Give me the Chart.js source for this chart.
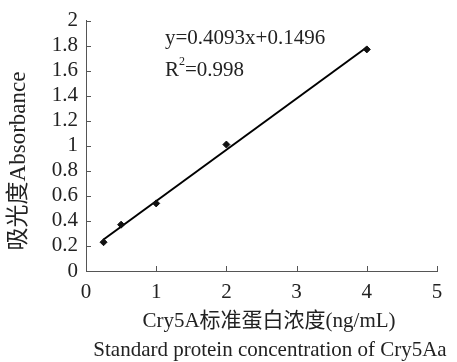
<!DOCTYPE html>
<html>
<head>
<meta charset="utf-8">
<script src="https://cdn.jsdelivr.net/npm/chart.js@4"></script>
<style>
  html, body { margin: 0; padding: 0; background: #fff; }
  #wrap { width: 457px; height: 362px; }
</style>
</head>
<body>
<div id="wrap"><canvas id="c" width="457" height="362"></canvas></div>
<script>
// datos
const concentrations = [0.25, 0.5, 1, 2, 4];
const absorbance = [0.23, 0.37, 0.54, 1.01, 1.77];
const slope = 0.4093;
const intercept = 0.1496;
const xTicks = [0, 1, 2, 3, 4, 5];
const yTicks = [0, 0.2, 0.4, 0.6, 0.8, 1, 1.2, 1.4, 1.6, 1.8, 2];

const serif = '"Liberation Serif", "Times New Roman", "Noto Sans CJK SC", serif';
const axisColor = '#555';

// línea de tendencia (ecuación de la figura)
const fitStart = concentrations[0];
const fitEnd = concentrations[concentrations.length - 1];
const fitLine = [
  { x: fitStart, y: slope * fitStart + intercept },
  { x: fitEnd, y: slope * fitEnd + intercept }
];

// ticks hacia dentro y textos
const extras = {
  id: 'extras',
  afterDraw(chart) {
    const c = chart.ctx;
    const xs = chart.scales.x, ys = chart.scales.y;
    c.save();
    c.strokeStyle = axisColor;
    c.lineWidth = 1;
    c.beginPath();
    xTicks.forEach(v => {
      const px = Math.round(xs.getPixelForValue(v)) + 0.5;
      c.moveTo(px, ys.bottom);
      c.lineTo(px, ys.bottom - 5);
    });
    yTicks.forEach(v => {
      const py = Math.round(ys.getPixelForValue(v)) + 0.5;
      c.moveTo(xs.left, py);
      c.lineTo(xs.left + 5, py);
    });
    c.stroke();

    c.fillStyle = '#222';
    c.textBaseline = 'middle';
    c.font = '21px ' + serif;
    c.textAlign = 'left';
    c.fillText('y=0.4093x+0.1496', 165, 38);
    c.fillText('R', 165, 70);
    const rw = c.measureText('R').width;
    c.font = '12px ' + serif;
    c.fillText('2', 165 + rw, 62);
    c.font = '21px ' + serif;
    c.fillText('=0.998', 165 + rw + 6, 70);

    c.textAlign = 'center';
    c.fillText('Cry5A标准蛋白浓度(ng/mL)', 269, 321);
    c.fillText('Standard protein concentration of Cry5Aa', 270, 350);

    c.font = '23px ' + serif;
    c.translate(19, 161);
    c.rotate(-Math.PI / 2);
    c.fillText('吸光度Absorbance', 0, 0);
    c.restore();
  }
};

new Chart(document.getElementById('c'), {
  type: 'scatter',
  data: {
    datasets: [
      {
        label: 'Absorbance',
        data: concentrations.map((x, i) => ({ x: x, y: absorbance[i] })),
        pointStyle: 'rectRot',
        pointRadius: 3.5,
        backgroundColor: '#111',
        borderColor: '#111',
        order: 1
      },
      {
        label: 'fit',
        type: 'line',
        data: fitLine,
        borderColor: '#000',
        borderWidth: 2,
        pointRadius: 0,
        fill: false,
        order: 2
      }
    ]
  },
  options: {
    responsive: false,
    animation: false,
    layout: { padding: { top: 20, right: 20, left: 0, bottom: 0 } },
    plugins: { legend: { display: false }, tooltip: { enabled: false } },
    scales: {
      x: {
        type: 'linear',
        min: 0, max: 5,
        afterBuildTicks: s => { s.ticks = xTicks.map(v => ({ value: v })); },
        afterFit: s => { s.height = 91; },
        grid: { display: false, drawTicks: false },
        border: { display: true, color: axisColor, width: 1 },
        ticks: { padding: 9, autoSkip: false, maxRotation: 0, color: '#222', font: { family: serif, size: 21 },
                 callback: v => String(v) }
      },
      y: {
        type: 'linear',
        min: 0, max: 2,
        afterBuildTicks: s => { s.ticks = yTicks.map(v => ({ value: v })); },
        afterFit: s => { s.width = 86; },
        grid: { display: false, drawTicks: false },
        border: { display: true, color: axisColor, width: 1 },
        ticks: { padding: 8, autoSkip: false, color: '#222', font: { family: serif, size: 21 },
                 callback: v => String(Math.round(v * 10) / 10) }
      }
    }
  },
  plugins: [extras]
});
</script>
</body>
</html>
